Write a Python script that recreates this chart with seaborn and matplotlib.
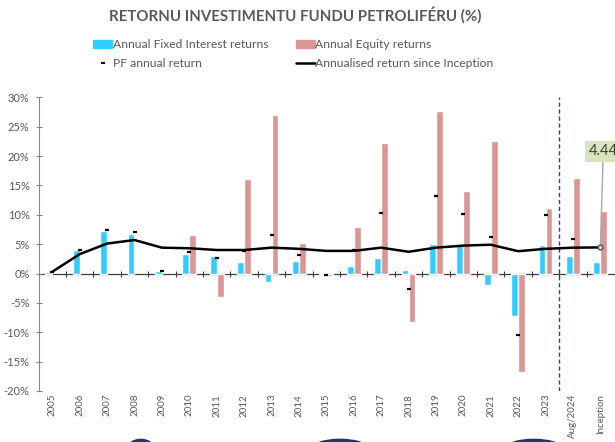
import numpy as np
import pandas as pd
import matplotlib.pyplot as plt
from matplotlib.patches import Patch, Ellipse
from matplotlib.lines import Line2D
from matplotlib.ticker import FuncFormatter
import seaborn as sns

sns.set_theme(style="white")
plt.rcParams['font.family'] = ['Lato', 'DejaVu Sans']

# === Datos (valores en %) ===
categorias = ["2005", "2006", "2007", "2008", "2009", "2010", "2011", "2012", "2013", "2014",
              "2015", "2016", "2017", "2018", "2019", "2020", "2021", "2022", "2023",
              "Aug/2024", "Inception"]
fixed_interest = [0.3, 4.0, 7.3, 6.8, 0.45, 3.4, 3.0, 1.9, -1.5, 2.1,
                  0.05, 1.3, 2.7, 0.6, 5.0, 4.9, -2.0, -7.2, 4.9, 3.0, 2.0]
equity = [np.nan, np.nan, np.nan, np.nan, np.nan, 6.6, -4.0, 16.1, 27.0, 5.2,
          -0.45, 8.0, 22.3, -8.3, 27.7, 14.0, 22.6, -16.8, 11.2, 16.2, 10.6]
pf_anual = [0.3, 4.0, 7.4, 7.0, 0.45, 3.7, 2.7, 3.8, 6.5, 3.2,
            -0.25, 4.0, 10.3, -2.7, 13.2, 10.2, 6.2, -10.5, 9.9, 5.9, np.nan]
desde_inicio = [0.3, 3.3, 5.1, 5.7, 4.4, 4.3, 4.0, 4.0, 4.4, 4.2,
                3.85, 3.85, 4.4, 3.7, 4.4, 4.75, 4.9, 3.8, 4.2, 4.4, 4.44]

lbl_fixed = "Annual Fixed Interest returns"
lbl_equity = "Annual Equity returns"
lbl_pf = "PF annual return"
lbl_line = "Annualised return since Inception"
titulo = "RETORNU INVESTIMENTU FUNDU PETROLIFÉRU (%)"

col_fixed = "#33ccff"
col_equity = "#da9694"
gris = "#595959"

df = pd.DataFrame({
    "cat": categorias * 2,
    "tipo": [lbl_fixed] * len(categorias) + [lbl_equity] * len(categorias),
    "valor": fixed_interest + equity,
})

fig = plt.figure(figsize=(6.15, 4.42), dpi=100)
ax = fig.add_axes([0.0628, 0.1154, 0.9356, 0.6645])

sns.barplot(data=df, x="cat", y="valor", hue="tipo", order=categorias,
            hue_order=[lbl_fixed, lbl_equity], palette=[col_fixed, col_equity],
            width=0.52, gap=0.05, saturation=1, legend=False, ax=ax)

x = np.arange(len(categorias))
ax.plot(x, desde_inicio, color="black", lw=1.8, zorder=4)
ax.plot(x, pf_anual, ls="none", marker="_", ms=3.5, mew=1.6, color="black", zorder=5)
ax.plot(x[-1], desde_inicio[-1], marker="o", ms=3.5, mfc="#d8e4bc", mec="#4d4d4d",
        mew=1, zorder=6)

ax.annotate(f"{desde_inicio[-1]:.2f}", xy=(x[-1], desde_inicio[-1]), xytext=(3, 96),
            textcoords="offset pixels", ha="center", va="center", fontsize=10.5,
            color="#404040",
            bbox=dict(boxstyle="square,pad=0.25", fc="#d8e4bc", ec="none"),
            arrowprops=dict(arrowstyle="-", color="#a6a6a6", lw=1, shrinkA=0, shrinkB=2))

# linea punteada entre 2023 y Aug/2024
ax.axvline(len(categorias) - 2.5, color="#1f4e79", ls=(0, (3, 2)), lw=1, zorder=3)

# === Ejes ===
ymin, ymax = -20, 30
ax.set_ylim(ymin, ymax)
ax.set_xlim(-0.5, len(categorias) - 0.5)
ax.set_yticks(range(ymin, ymax + 1, 5))
ax.yaxis.set_major_formatter(FuncFormatter(lambda v, p: f"{v:.0f}%"))
ax.tick_params(axis="y", direction="inout", length=5, width=0.8, color="#868686",
               labelsize=8, labelcolor=gris, pad=4, left=True)
ax.tick_params(axis="x", length=0, labelsize=7, labelcolor=gris, rotation=90, pad=2)
ax.set_xlabel("")
ax.set_ylabel("")
for s in ["top", "right", "bottom"]:
    ax.spines[s].set_visible(False)
ax.spines["left"].set_color("#868686")
ax.spines["left"].set_linewidth(0.8)

# eje en 0 con marcas entre categorias
eje0 = ax.secondary_xaxis((0 - ymin) / (ymax - ymin))
eje0.set_xticks(x[:-1] + 0.5, labels=[])
eje0.tick_params(direction="inout", length=5, width=0.8, color="#3f3f3f")
eje0.spines["bottom"].set_color("#3f3f3f")
eje0.spines["bottom"].set_linewidth(0.9)
eje0.spines["top"].set_color("#3f3f3f")

# === Leyenda ===
handles = [
    Patch(color=col_fixed, label=lbl_fixed),
    Line2D([], [], ls="none", marker="_", ms=3, mew=1.4, color="black", label=lbl_pf),
    Patch(color=col_equity, label=lbl_equity),
    Line2D([], [], color="black", lw=1.8, label=lbl_line),
]
leg = ax.legend(handles=handles, ncol=2, loc="upper left", bbox_to_anchor=(0.152, 0.911),
                bbox_transform=fig.transFigure, frameon=False, fontsize=8.7,
                handlelength=1.57, handleheight=0.55, handletextpad=0.05,
                columnspacing=2.25, labelspacing=0.62, borderpad=0, borderaxespad=0)
for t in leg.get_texts():
    t.set_color(gris)

fig.text(0.4805, 0.966, titulo, ha="center", va="center", fontsize=10.8,
         fontweight="bold", color=gris)

# decoracion de fondo (arcos inferiores)
for cx, w in [(0.229, 0.04), (0.553, 0.086), (0.868, 0.086)]:
    fig.patches.append(Ellipse((cx, -0.012), w, 0.036, transform=fig.transFigure,
                               color="#1f3864", zorder=0))

fig.savefig("out.png", dpi=100)
